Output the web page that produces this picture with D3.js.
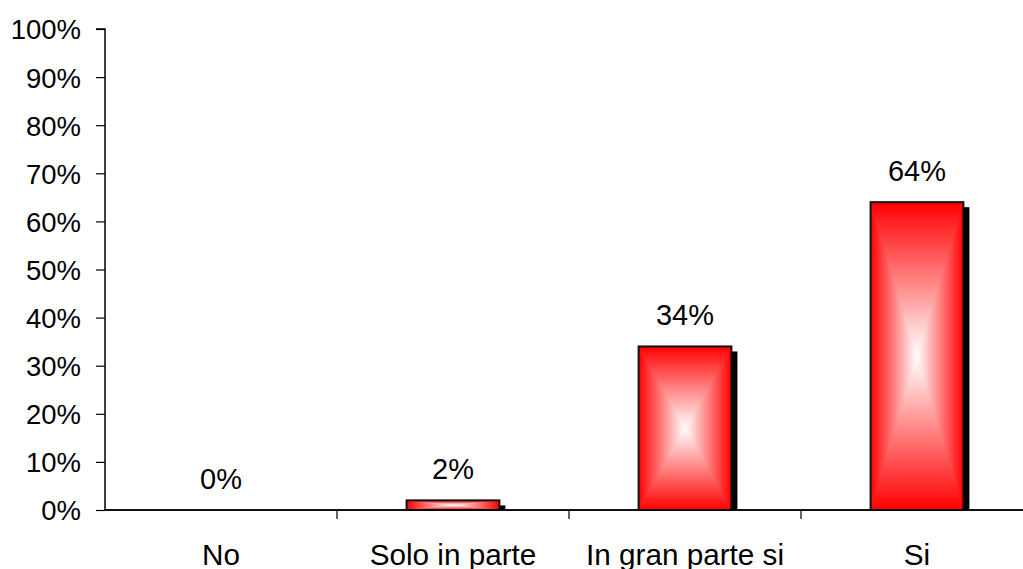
<!DOCTYPE html>
<html><head><meta charset="utf-8">
<script src="https://cdn.jsdelivr.net/npm/d3@7"></script>
<style>
html,body{margin:0;padding:0;background:#fff;}
svg{display:block;font-family:Arial,"Liberation Sans",sans-serif;}
</style></head>
<body>
<svg id="chart" width="1023" height="569"></svg>
<script>
const categories = ["No", "Solo in parte", "In gran parte si", "Si"];
const values = [0, 2, 34, 64];
const yTicks = [0, 10, 20, 30, 40, 50, 60, 70, 80, 90, 100];

const svg = d3.select("#chart");
const x0 = 105, x1 = 1033, yTop = 29, yBot = 510;
const x = d3.scaleBand().domain(categories).range([x0, x1]).paddingInner(0.6).paddingOuter(0.3);
const xb = d3.scaleBand().domain(categories).range([x0, x1]);
const y = d3.scaleLinear().domain([0, 100]).range([yBot, yTop]);

const ff = "Arial, 'Liberation Sans', sans-serif";
// Y axis
const ya = svg.append("g").attr("transform", `translate(${x0},0)`)
  .call(d3.axisLeft(y).tickValues(yTicks).tickSize(9).tickPadding(15).tickFormat(d => d + "%"));
ya.select(".domain").attr("stroke", "#000").attr("stroke-width", 1.5).attr("d", `M-9,${yTop}H0V${yBot}`);
ya.selectAll(".tick line").attr("stroke", "#000").attr("stroke-width", 1.2);
ya.selectAll("text").attr("font-size", 27.5).attr("fill", "#000").attr("font-family", ff).attr("dy", "0.36em");

// X axis
const xa = svg.append("g").attr("transform", `translate(0,${yBot})`)
  .call(d3.axisBottom(xb).tickSize(0).tickPadding(0));
xa.select(".domain").attr("stroke", "#000").attr("stroke-width", 1.5).attr("d", `M${x0},0H${x1}`);
xa.selectAll(".tick line").remove();
xa.selectAll("text").attr("font-size", 29.7).attr("fill", "#000").attr("font-family", ff)
  .attr("dy", 0).attr("y", 55);
// category separators
svg.append("g").selectAll("line").data(categories.slice(1)).join("line")
  .attr("x1", d => xb(d)).attr("x2", d => xb(d)).attr("y1", yBot).attr("y2", yBot + 9)
  .attr("stroke", "#000").attr("stroke-width", 1.2);

// gradients
const defs = svg.append("defs");
function grad(id, x1_, y1_, x2_, y2_) {
  const g = defs.append("linearGradient").attr("id", id)
    .attr("x1", x1_).attr("y1", y1_).attr("x2", x2_).attr("y2", y2_);
  g.append("stop").attr("offset", "0%").attr("stop-color", "#ff0000");
  g.append("stop").attr("offset", "100%").attr("stop-color", "#ffffff");
}
grad("gTop", 0, 0, 0, 1);
grad("gBot", 0, 1, 0, 0);
grad("gLeft", 0, 0, 1, 0);
grad("gRight", 1, 0, 0, 0);

const data = categories.map((c, i) => ({c, v: values[i]}));
const bars = svg.append("g");
data.forEach(d => {
  if (d.v <= 0) return;
  const bx = x(d.c), bw = x.bandwidth(), by = y(d.v), bh = yBot - by;
  const cx = bx + bw / 2, cy = by + bh / 2;
  const g = bars.append("g");
  // shadow
  g.append("rect").attr("x", bx + 6).attr("y", by + 5).attr("width", bw).attr("height", bh - 5).attr("fill", "#000");
  g.append("polygon").attr("points", `${bx},${by} ${bx},${yBot} ${cx},${cy}`)
    .attr("fill", "url(#gLeft)").attr("stroke", "url(#gLeft)").attr("stroke-width", 1);
  g.append("polygon").attr("points", `${bx+bw},${by} ${bx+bw},${yBot} ${cx},${cy}`)
    .attr("fill", "url(#gRight)").attr("stroke", "url(#gRight)").attr("stroke-width", 1);
  g.append("polygon").attr("points", `${bx},${by} ${bx+bw},${by} ${cx},${cy}`)
    .attr("fill", "url(#gTop)").attr("stroke", "url(#gTop)").attr("stroke-width", 0.8);
  g.append("polygon").attr("points", `${bx},${yBot} ${bx+bw},${yBot} ${cx},${cy}`)
    .attr("fill", "url(#gBot)").attr("stroke", "url(#gBot)").attr("stroke-width", 0.8);
  g.append("rect").attr("x", bx).attr("y", by).attr("width", bw).attr("height", bh)
    .attr("fill", "none").attr("stroke", "#111").attr("stroke-width", 2);
});

// value labels
svg.append("g").selectAll("text").data(data).join("text")
  .attr("x", d => x(d.c) + x.bandwidth() / 2)
  .attr("y", d => y(d.v) - 21)
  .attr("text-anchor", "middle").attr("font-size", 29).attr("fill", "#000").attr("font-family", ff)
  .text(d => d.v + "%");

// redraw axis line on top
svg.append("line").attr("x1", x0).attr("x2", x1).attr("y1", yBot).attr("y2", yBot).attr("stroke", "#000").attr("stroke-width", 1.5);
</script>
</body></html>
